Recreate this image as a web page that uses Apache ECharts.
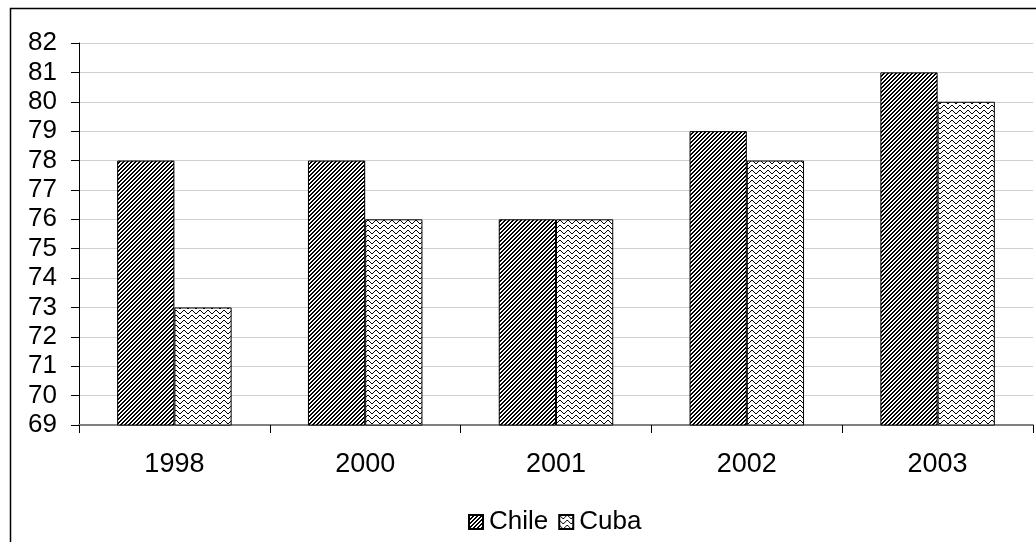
<!DOCTYPE html>
<html>
<head>
<meta charset="utf-8">
<script src="https://cdn.jsdelivr.net/npm/echarts@6/dist/echarts.min.js"></script>
<style>
html,body{margin:0;padding:0;background:#fff;}
#chart{width:1036px;height:542px;}
</style>
</head>
<body>
<div id="chart"></div>
<script>
const categories = ['1998', '2000', '2001', '2002', '2003'];
const chile = [78, 78, 76, 79, 81];
const cuba = [73, 76, 76, 78, 80];
const seriesNames = ['Chile', 'Cuba'];

function makeTile(w, h, isBlack) {
  const c = document.createElement('canvas');
  c.width = w; c.height = h;
  const ctx = c.getContext('2d');
  const img = ctx.createImageData(w, h);
  for (let y = 0; y < h; y++) {
    for (let x = 0; x < w; x++) {
      const i = (y * w + x) * 4;
      const v = isBlack(x, y) ? 0 : 255;
      img.data[i] = v; img.data[i + 1] = v; img.data[i + 2] = v; img.data[i + 3] = 255;
    }
  }
  ctx.putImageData(img, 0, 0);
  return c;
}
// diagonal hatch "/"
const chileTile = makeTile(4, 4, (x, y) => ((x + y) % 4) < 2);
// zigzag waves
const zig = [0, 1, 2, 3, 3, 2, 1, 0];
const cubaTile = makeTile(8, 5, (x, y) => y === zig[x]);

const chart = echarts.init(document.getElementById('chart'), null, { renderer: 'canvas' });
const font = '"Liberation Sans", Arial, sans-serif';
chart.setOption({
  animation: false,
  backgroundColor: '#fff',
  graphic: [{
    type: 'rect', left: 8, top: 6,
    shape: { width: 1100, height: 700 },
    style: { fill: 'none', stroke: '#000', lineWidth: 1.5 },
    silent: true, z: -1
  }],
  grid: { left: 79, right: 3, top: 43, bottom: 117, containLabel: false },
  legend: {
    top: 509, left: 468, padding: 0,
    icon: 'rect',
    itemWidth: 14, itemHeight: 14, itemGap: 10,
    textStyle: { fontFamily: font, fontSize: 26, color: '#000', padding: [0, 0, 0, 1] },
    data: seriesNames
  },
  xAxis: {
    type: 'category',
    data: categories,
    axisLine: { lineStyle: { color: '#808080', width: 2 } },
    axisTick: { show: true, length: 8, lineStyle: { color: '#000' }, alignWithLabel: false },
    axisLabel: { fontFamily: font, fontSize: 27, color: '#000', margin: 26 },
    splitLine: { show: false }
  },
  yAxis: {
    type: 'value',
    min: 69, max: 82, interval: 1,
    axisLine: { show: true, lineStyle: { color: '#000', width: 1 } },
    axisTick: { show: true, length: 8, lineStyle: { color: '#000' } },
    axisLabel: { fontFamily: font, fontSize: 26, color: '#000', margin: 22 },
    splitLine: { show: true, lineStyle: { color: '#d0d0d0', width: 1 } }
  },
  series: [
    {
      name: seriesNames[0], type: 'bar', data: chile,
      barGap: '0%', barCategoryGap: '40%',
      itemStyle: { color: { image: chileTile, repeat: 'repeat' }, borderColor: '#000', borderWidth: 1 }
    },
    {
      name: seriesNames[1], type: 'bar', data: cuba,
      itemStyle: { color: { image: cubaTile, repeat: 'repeat' }, borderColor: '#000', borderWidth: 1 }
    }
  ]
});
</script>
</body>
</html>
